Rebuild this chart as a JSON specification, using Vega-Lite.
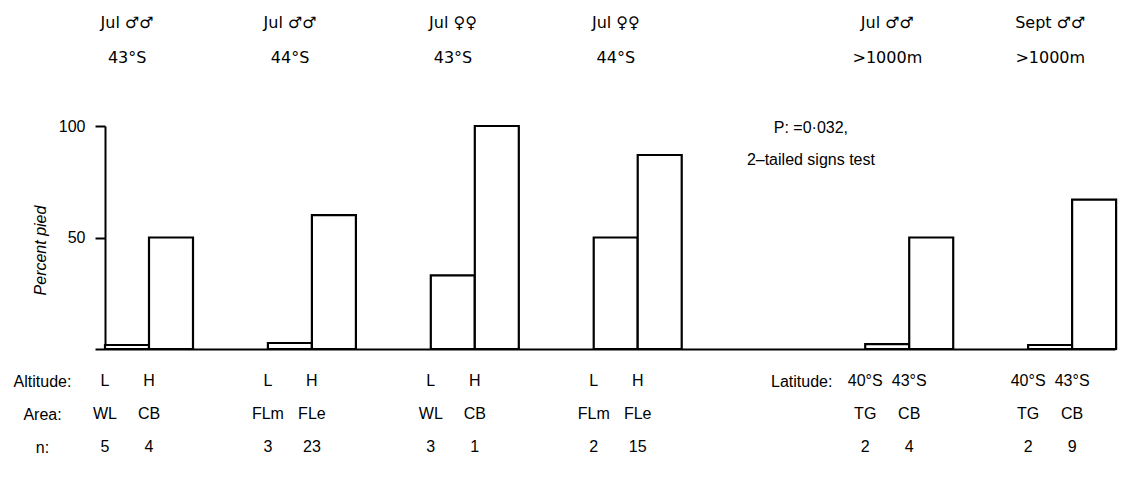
{
  "$schema": "https://vega.github.io/schema/vega-lite/v6.json",
  "autosize": {"type": "none"},
  "padding": {"left": 105, "top": 126, "right": 9, "bottom": 135},
  "width": 1010,
  "height": 223,
  "background": "white",
  "config": {
    "view": {"stroke": null},
    "font": "Liberation Sans",
    "text": {"font": "Liberation Sans", "fontSize": 16, "color": "black"},
    "axis": {"labelFont": "Liberation Sans", "titleFont": "Liberation Sans", "labelColor": "black", "titleColor": "black", "domainColor": "black", "tickColor": "black", "grid": false}
  },
  "data": {
    "values": [
      {"group": "Jul ♂♂|43°S", "level": "low", "contrast": "L", "area": "WL", "n": 5, "pct": 1.8},
      {"group": "Jul ♂♂|43°S", "level": "high", "contrast": "H", "area": "CB", "n": 4, "pct": 50},
      {"group": "Jul ♂♂|44°S", "level": "low", "contrast": "L", "area": "FLm", "n": 3, "pct": 2.7},
      {"group": "Jul ♂♂|44°S", "level": "high", "contrast": "H", "area": "FLe", "n": 23, "pct": 60},
      {"group": "Jul ♀♀|43°S", "level": "low", "contrast": "L", "area": "WL", "n": 3, "pct": 33},
      {"group": "Jul ♀♀|43°S", "level": "high", "contrast": "H", "area": "CB", "n": 1, "pct": 100},
      {"group": "Jul ♀♀|44°S", "level": "low", "contrast": "L", "area": "FLm", "n": 2, "pct": 50},
      {"group": "Jul ♀♀|44°S", "level": "high", "contrast": "H", "area": "FLe", "n": 15, "pct": 87},
      {"group": "Jul ♂♂|>1000m", "level": "low", "contrast": "40°S", "area": "TG", "n": 2, "pct": 2.2},
      {"group": "Jul ♂♂|>1000m", "level": "high", "contrast": "43°S", "area": "CB", "n": 4, "pct": 50},
      {"group": "Sept ♂♂|>1000m", "level": "low", "contrast": "40°S", "area": "TG", "n": 2, "pct": 1.8},
      {"group": "Sept ♂♂|>1000m", "level": "high", "contrast": "43°S", "area": "CB", "n": 9, "pct": 67}
    ]
  },
  "layer": [
    {
      "mark": {"type": "bar", "fill": "white", "stroke": "black", "strokeWidth": 2.2},
      "encoding": {
        "x": {
          "field": "group", "type": "nominal", "sort": null,
          "scale": {"domain": ["Jul ♂♂|43°S","_1","_2","Jul ♂♂|44°S","_3","_4","Jul ♀♀|43°S","_5","_6","Jul ♀♀|44°S","_7","_8","Latitude:","_9","Jul ♂♂|>1000m","_10","_11","Sept ♂♂|>1000m"], "paddingInner": 0, "paddingOuter": 0.3, "align": 0},
          "axis": {
            "orient": "bottom", "domain": true, "domainWidth": 2, "ticks": false, "tickSize": 0,
            "labelExpr": "indexof(datum.value, ':') > 0 ? datum.value : ''",
            "labelOffset": 18, "labelPadding": 24, "labelFontSize": 16, "labelAngle": 0, "labelBaseline": "top", "labelOverlap": false,
            "title": ["Altitude:", "Area:", "n:"], "titleX": -63, "titleY": 24, "titleAlign": "center", "titleBaseline": "top",
            "titleLineHeight": 33, "titleFontWeight": "normal", "titleFontSize": 16, "titleAngle": 0
          }
        },
        "xOffset": {"field": "level", "type": "nominal", "sort": null, "scale": {"domain": ["low", "high"], "range": [0, 88], "paddingInner": 0, "paddingOuter": 0}},
        "y": {
          "field": "pct", "type": "quantitative", "scale": {"domain": [0, 100]},
          "axis": {
            "values": [0, 50, 100], "labelExpr": "datum.value == 0 ? '' : datum.label",
            "labelFontSize": 16, "labelPadding": 10, "tickSize": 10, "tickWidth": 2, "domainWidth": 2,
            "title": "Percent pied", "titleFontStyle": "italic", "titleFontWeight": "normal", "titleFontSize": 16,
            "titleX": -65, "titleY": 124, "titleAlign": "center", "titleBaseline": "middle"
          }
        }
      }
    },
    {
      "mark": {"type": "text", "baseline": "top", "dy": 24, "dx": -22},
      "encoding": {
        "x": {
          "field": "group", "type": "nominal", "sort": null,
          "scale": {"domain": ["Jul ♂♂|43°S","_1","_2","Jul ♂♂|44°S","_3","_4","Jul ♀♀|43°S","_5","_6","Jul ♀♀|44°S","_7","_8","Latitude:","_9","Jul ♂♂|>1000m","_10","_11","Sept ♂♂|>1000m"]},
          "axis": {
            "orient": "top", "domain": false, "ticks": false, "tickSize": 0,
            "labelExpr": "indexof(datum.value, '|') >= 0 ? split(datum.value, '|') : ''",
            "labelOffset": -5, "labelPadding": 96, "labelLineHeight": 35, "labelFontSize": 16, "labelFont": "DejaVu Sans", "labelAngle": 0, "labelOverlap": false,
            "title": null
          }
        },
        "xOffset": {"field": "level", "type": "nominal", "sort": null, "scale": {"domain": ["low", "high"]}},
        "y": {"datum": 0},
        "text": {"field": "contrast"}
      }
    },
    {
      "mark": {"type": "text", "baseline": "top", "dy": 57, "dx": -22},
      "encoding": {
        "x": {"field": "group", "type": "nominal", "sort": null, "axis": null},
        "xOffset": {"field": "level", "type": "nominal", "sort": null},
        "y": {"datum": 0},
        "text": {"field": "area"}
      }
    },
    {
      "mark": {"type": "text", "baseline": "top", "dy": 90, "dx": -22},
      "encoding": {
        "x": {"field": "group", "type": "nominal", "sort": null, "axis": null},
        "xOffset": {"field": "level", "type": "nominal", "sort": null},
        "y": {"datum": 0},
        "text": {"field": "n"}
      }
    },
    {
      "data": {"values": [{"note": "P"}]},
      "mark": {"type": "text", "align": "center", "baseline": "middle", "lineHeight": 32, "text": ["P: =0·032,", "2–tailed signs test"]},
      "encoding": {
        "x": {"datum": "_9", "bandPosition": 0, "axis": null},
        "y": {"datum": 99}
      }
    }
  ]
}
